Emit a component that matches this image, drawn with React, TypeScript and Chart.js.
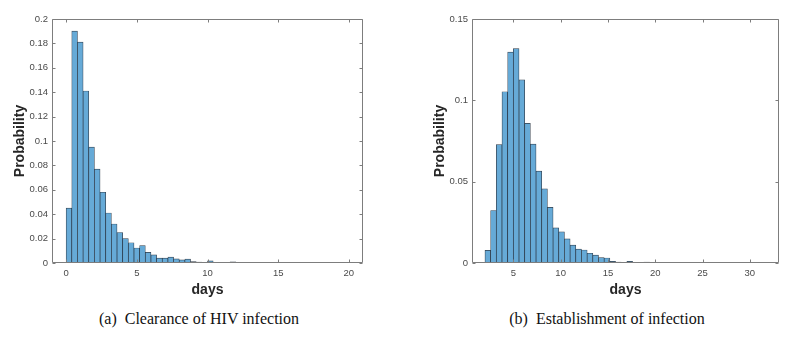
import React, { useEffect, useRef } from "react";
import { Chart, registerables } from "chart.js";

Chart.register(...registerables);

// ---------- data ----------
const clearanceBinStart = 0;
const clearanceBinWidth = 0.4;
const clearanceProb = [
  0.045, 0.19, 0.181, 0.141, 0.095, 0.077, 0.058, 0.041, 0.032, 0.025,
  0.02, 0.0166, 0.0123, 0.0142, 0.0087, 0.0066, 0.004, 0.004, 0.0048, 0.0034,
  0.0025, 0.0032, 0.0011, 0.0007, 0.0002, 0.0017, 0.0003, 0.0002, 0.0004, 0.0009,
  0.0005, 0.0003, 0.0001, 0, 0.0001, 0.0001, 0.0001, 0.0001, 0.0001, 0.0001,
  0, 0.0001, 0.0001, 0, 0.0001, 0.0001, 0.0001, 0.0001, 0.0001, 0,
];
const clearanceXTicks = [0, 5, 10, 15, 20];
const clearanceYTicks = [0, 0.02, 0.04, 0.06, 0.08, 0.1, 0.12, 0.14, 0.16, 0.18, 0.2];
const clearanceXRange = [-1, 21];
const clearanceYMax = 0.2;

const establishBinStart = 2;
const establishBinWidth = 0.6;
const establishProb = [
  0.0078, 0.0323, 0.0728, 0.1053, 0.1296, 0.1318, 0.1126, 0.0858, 0.0731, 0.0565,
  0.0456, 0.0342, 0.0216, 0.0192, 0.0148, 0.011, 0.0085, 0.008, 0.006, 0.0048,
  0.0033, 0.0031, 0.001, 0.0006, 0.0004, 0.001, 0.0004, 0.0004, 0.0006, 0.0002,
  0, 0.0001, 0.0001, 0.0001, 0.0001, 0, 0.0004, 0, 0.0001, 0.0001,
  0.0001, 0.0001, 0.0001, 0.0001, 0.0001, 0.0001, 0.0001, 0.0001, 0.0001,
];
const establishXTicks = [5, 10, 15, 20, 25, 30];
const establishYTicks = [0, 0.05, 0.1, 0.15];
const establishXRange = [0.63, 33.08];
const establishYMax = 0.15;

const yAxisTitle = "Probability";
const xAxisTitle = "days";
const captionA = ["(a)", "Clearance of HIV infection"];
const captionB = ["(b)", "Establishment of infection"];

// ---------- styles ----------
const BAR_FILL = "#66aad7";
const BAR_EDGE = "rgba(28,40,54,0.9)";
const AXIS_COLOR = "#7d7d7d";
const TICK_TEXT = "#4a4a4a";
const TITLE_TEXT = "#262626";
const SANS = "'Liberation Sans', Arial, Helvetica, sans-serif";
const SERIF = "'Liberation Serif', 'Times New Roman', serif";
const CANVAS_H = 300;
const AREA_TOP = 19;
const AREA_BOTTOM = 263;
const TICK_LEN = 3;

const boxPlugin = {
  id: "matlabBox",
  afterDatasetsDraw(chart: any, _args: any, opts: any) {
    const { ctx, chartArea: a, scales } = chart;
    const l = Math.round(a.left) + 0.5;
    const r = Math.round(a.right) - 0.5;
    const t = Math.round(a.top) + 0.5;
    const b = Math.round(a.bottom) - 0.5;
    ctx.save();
    ctx.strokeStyle = AXIS_COLOR;
    ctx.lineWidth = 1;
    ctx.beginPath();
    ctx.rect(l, t, r - l, b - t);
    ctx.stroke();
    ctx.beginPath();
    for (const tk of scales.x.ticks) {
      const px = Math.round(scales.x.getPixelForValue(tk.value)) + 0.5;
      ctx.moveTo(px, b);
      ctx.lineTo(px, b - TICK_LEN);
      ctx.moveTo(px, t);
      ctx.lineTo(px, t + TICK_LEN);
    }
    for (const tk of scales.y.ticks) {
      const py = Math.round(scales.y.getPixelForValue(tk.value)) + 0.5;
      ctx.moveTo(l, py);
      ctx.lineTo(l + TICK_LEN, py);
      ctx.moveTo(r, py);
      ctx.lineTo(r - TICK_LEN, py);
    }
    ctx.stroke();
    ctx.restore();
  },
};

type PanelProps = {
  left: number;
  width: number;
  areaLeft: number;
  areaRight: number;
  yTitleCenter: number;
  values: number[];
  binStart: number;
  binWidth: number;
  xTicks: number[];
  yTicks: number[];
  xRange: number[];
  yMax: number;
};

function HistPanel(p: PanelProps) {
  const ref = useRef<HTMLCanvasElement | null>(null);
  useEffect(() => {
    if (!ref.current) return;
    const data = p.values.map((v, i) => ({ x: p.binStart + (i + 0.5) * p.binWidth, y: v }));
    const tickFont = { family: SANS, size: 9.5 };
    const titleFont = { family: SANS, size: 14, weight: "bold" as const, lineHeight: 1.2 };
    const chart = new Chart(ref.current, {
      type: "bar",
      data: {
        datasets: [
          {
            data: data as any,
            backgroundColor: BAR_FILL,
            borderColor: BAR_EDGE,
            borderWidth: 0.7,
            borderSkipped: false,
            barPercentage: 1,
            categoryPercentage: 1,
          },
        ],
      },
      options: {
        responsive: false,
        animation: false,
        events: [],
        layout: { padding: { left: 0, top: AREA_TOP, right: p.width - p.areaRight, bottom: 0 } },
        plugins: { legend: { display: false }, tooltip: { enabled: false } },
        scales: {
          x: {
            type: "linear",
            min: p.xRange[0],
            max: p.xRange[1],
            offset: false,
            grid: { display: false, drawTicks: false },
            border: { display: false },
            afterBuildTicks: (s: any) => {
              s.ticks = p.xTicks.map((v) => ({ value: v }));
            },
            afterFit: (s: any) => {
              s.height = CANVAS_H - AREA_BOTTOM;
            },
            ticks: {
              padding: 5,
              color: TICK_TEXT,
              font: tickFont,
              maxRotation: 0,
              autoSkip: false,
              callback: (v: any) => String(v),
            },
            title: {
              display: true,
              text: xAxisTitle,
              color: TITLE_TEXT,
              font: titleFont,
              padding: { top: 0, bottom: 1.6 },
            },
          },
          y: {
            type: "linear",
            min: 0,
            max: p.yMax,
            grid: { display: false, drawTicks: false },
            border: { display: false },
            afterBuildTicks: (s: any) => {
              s.ticks = p.yTicks.map((v) => ({ value: v }));
            },
            afterFit: (s: any) => {
              s.width = p.areaLeft;
            },
            ticks: {
              padding: 4,
              color: TICK_TEXT,
              font: tickFont,
              autoSkip: false,
              callback: (v: any) => String(Number(Number(v).toFixed(4))),
            },
            title: {
              display: true,
              text: yAxisTitle,
              color: TITLE_TEXT,
              font: titleFont,
              padding: { top: p.yTitleCenter - 8.4, bottom: 0 },
            },
          },
        },
      } as any,
      plugins: [boxPlugin],
    });
    return () => chart.destroy();
  }, []);
  return (
    <canvas
      ref={ref}
      width={p.width}
      height={CANVAS_H}
      style={{ position: "absolute", left: p.left, top: 0, width: p.width, height: CANVAS_H }}
    />
  );
}

function Caption({ parts, center }: { parts: string[]; center: number }) {
  return (
    <div
      style={{
        position: "absolute",
        left: center - 200,
        width: 400,
        top: 310,
        height: 18,
        lineHeight: "18px",
        textAlign: "center",
        fontFamily: SERIF,
        fontSize: 16,
        color: "#111",
        whiteSpace: "nowrap",
      }}
    >
      <span style={{ marginRight: 8 }}>{parts[0]}</span>
      <span>{parts[1]}</span>
    </div>
  );
}

export default function App() {
  return (
    <div
      style={{
        position: "absolute",
        left: 0,
        top: 0,
        width: 795,
        height: 337,
        background: "#ffffff",
        overflow: "hidden",
      }}
    >
      <HistPanel
        left={0}
        width={400}
        areaLeft={52}
        areaRight={363}
        yTitleCenter={20}
        values={clearanceProb}
        binStart={clearanceBinStart}
        binWidth={clearanceBinWidth}
        xTicks={clearanceXTicks}
        yTicks={clearanceYTicks}
        xRange={clearanceXRange}
        yMax={clearanceYMax}
      />
      <HistPanel
        left={400}
        width={395}
        areaLeft={72}
        areaRight={379}
        yTitleCenter={40}
        values={establishProb}
        binStart={establishBinStart}
        binWidth={establishBinWidth}
        xTicks={establishXTicks}
        yTicks={establishYTicks}
        xRange={establishXRange}
        yMax={establishYMax}
      />
      <Caption parts={captionA} center={199} />
      <Caption parts={captionB} center={607} />
    </div>
  );
}
